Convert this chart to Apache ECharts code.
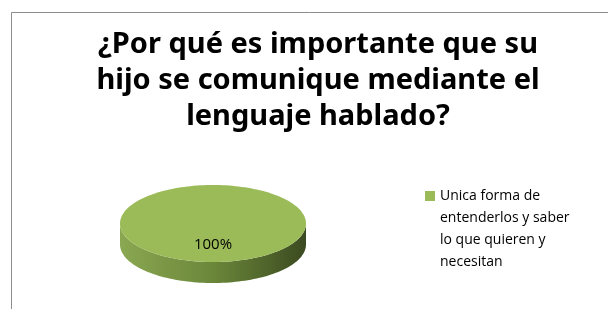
<!DOCTYPE html>
<html>
<head>
<meta charset="utf-8">
<script src="https://cdn.jsdelivr.net/npm/echarts@6/dist/echarts.min.js"></script>
<style>
  html, body { margin: 0; padding: 0; background: #fff; }
  #chart { width: 608px; height: 309px; }
</style>
</head>
<body>
<div id="chart"></div>
<script>
var titleText = '¿Por qué es importante que su\nhijo se comunique mediante el\nlenguaje hablado?';
var categories = ['Unica forma de entenderlos y saber lo que quieren y necesitan'];
var values = [100];
var colors = ['#9bbb59'];

var myChart = echarts.init(document.getElementById('chart'));

// 3d pie drawn as an ellipse, angles come from the values
function renderItem(params, api) {
    var i = params.dataIndex;
    var total = 0, before = 0;
    for (var j = 0; j < values.length; j++) {
        total += values[j];
        if (j < i) before += values[j];
    }
    var v = api.value(0);
    var a0 = -Math.PI / 2 + before / total * Math.PI * 2;
    var a1 = a0 + v / total * Math.PI * 2;
    var cx = 213, cy = 223.5, rx = 93, ry = 38.5, depth = 21;
    var N = 90;
    function pt(a, dy) {
        return [cx + rx * Math.cos(a), cy + ry * Math.sin(a) + (dy || 0)];
    }
    var full = (a1 - a0) >= Math.PI * 2 - 1e-6;

    var children = [];
    // side (front half only)
    for (var k = -1; k <= 2; k++) {
        var s = Math.max(a0, k * Math.PI * 2), e = Math.min(a1, k * Math.PI * 2 + Math.PI);
        if (e <= s) continue;
        var side = [];
        for (var n = 0; n <= N; n++) side.push(pt(s + (e - s) * n / N, 0));
        for (var n2 = N; n2 >= 0; n2--) side.push(pt(s + (e - s) * n2 / N, depth));
        children.push({
            type: 'polygon',
            shape: { points: side },
            style: {
                fill: new echarts.graphic.LinearGradient(0, 0, 1, 0, [
                    { offset: 0, color: '#8aa751' },
                    { offset: 0.5, color: '#6b873a' },
                    { offset: 1, color: '#3b4a20' }
                ])
            }
        });
    }
    // top face
    var top = [];
    if (!full) top.push([cx, cy]);
    for (var m = 0; m <= N * 2; m++) top.push(pt(a0 + (a1 - a0) * m / (N * 2), 0));
    children.push({
        type: 'polygon',
        shape: { points: top },
        style: { fill: colors[i % colors.length] }
    });
    // label
    var mid = (a0 + a1) / 2;
    children.push({
        type: 'text',
        x: cx + 0.56 * rx * Math.cos(mid),
        y: cy + 0.56 * ry * Math.sin(mid),
        style: {
            text: Math.round(v / total * 100) + '%',
            fill: '#000',
            font: '15px "Open Sans"',
            align: 'center',
            verticalAlign: 'middle'
        }
    });
    return { type: 'group', children: children };
}

var option = {
    animation: false,
    title: {
        text: titleText,
        left: 313,
        top: 22,
        textAlign: 'center',
        textStyle: {
            fontFamily: 'Noto Sans',
            fontWeight: 'bold',
            fontSize: 29,
            lineHeight: 36,
            color: '#000'
        }
    },
    legend: {
        orient: 'vertical',
        left: 425,
        top: 119,
        padding: 0,
        icon: 'rect',
        itemWidth: 10,
        itemHeight: 10,
        data: categories.map(function (c, i) {
            return { name: c, itemStyle: { color: colors[i] } };
        }),
        // empty lines on top so the first line sits next to the square
        formatter: function (name) { return '\n\n\n' + name; },
        textStyle: {
            fontFamily: 'Open Sans',
            fontSize: 14,
            color: '#000',
            width: 136,
            overflow: 'break',
            lineHeight: 22
        }
    },
    graphic: [{
        type: 'polyline',
        shape: { points: [[11.5, 309], [11.5, 12.5], [608, 12.5]] },
        style: { stroke: '#8c8c8c', lineWidth: 1, fill: null }
    }],
    series: categories.map(function (c, i) {
        return {
            name: c,
            type: 'custom',
            coordinateSystem: 'none',
            itemStyle: { color: colors[i] },
            renderItem: renderItem,
            data: [values[i]]
        };
    })
};

myChart.setOption(option);
</script>
</body>
</html>
